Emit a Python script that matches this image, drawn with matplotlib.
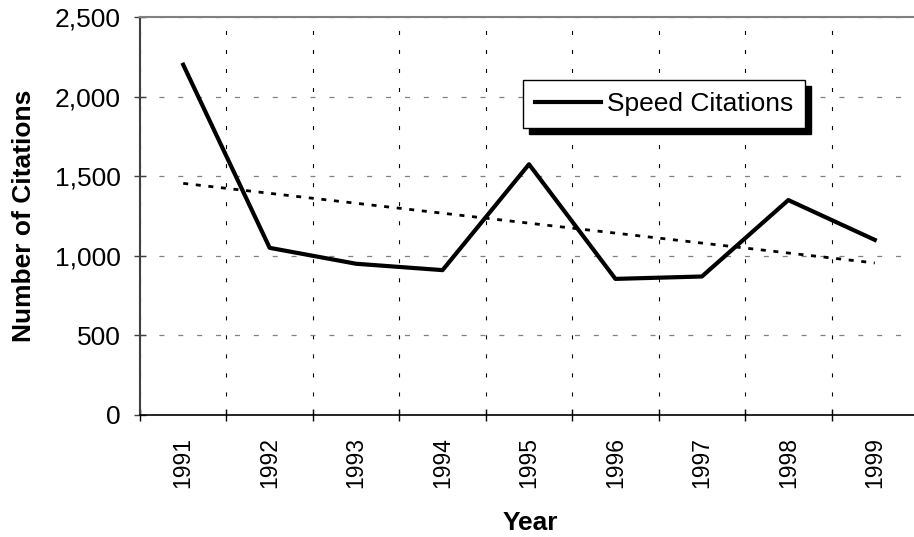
#!/usr/bin/env python3

import matplotlib
matplotlib.use("Agg")
import matplotlib.pyplot as plt
from matplotlib import font_manager

# Citation counts per year, plus the linear trend drawn across them
years = ["1991", "1992", "1993", "1994", "1995", "1996", "1997", "1998", "1999"]
citations = [2200, 1050, 950, 910, 1575, 855, 870, 1350, 1100]
trend_years = ["1991", "1999"]
trend_values = [1455, 955]
y_ticks = [0, 500, 1000, 1500, 2000, 2500]

plt.rcParams["font.family"] = ["Liberation Sans", "DejaVu Sans"]
plt.rcParams["lines.scale_dashes"] = False

names = {f.name for f in font_manager.fontManager.ttflist}
if "Liberation Sans Narrow" in names:
    xfont = dict(family="Liberation Sans Narrow", size=19)
else:
    xfont = dict(family="Liberation Sans", size=16.5)

fig = plt.figure(figsize=(9.14, 5.37), dpi=100)
ax = fig.add_axes([140 / 914, 122 / 537, 778 / 914, 398 / 537])

pos = list(range(len(years)))
trend_pos = [years.index(y) for y in trend_years]

ax.plot(trend_pos, trend_values, color="black", lw=2,
        linestyle=(0, (3.6, 5.5)), zorder=3)
ax.plot(pos, citations, color="black", lw=3, label="Speed Citations", zorder=4)

ax.set_xlim(-0.5, len(years) - 0.5)
ax.set_ylim(0, 2500)

# category boundaries carry the tick marks and vertical grid
ax.set_xticks([p - 0.5 for p in pos] + [len(years) - 0.5])
ax.set_xticklabels([])
ax.set_xticks(pos, minor=True)
ax.set_xticklabels(years, minor=True, rotation=90, **xfont)
ax.tick_params(axis="x", which="major", direction="inout", length=8, width=1)
ax.tick_params(axis="x", which="minor", length=0, pad=16)

ax.set_yticks(y_ticks)
ax.set_yticklabels([f"{v:,}" for v in y_ticks], fontsize=19)
ax.tick_params(axis="y", direction="inout", length=8, width=1, pad=10,
               color="#404040")

ax.xaxis.grid(True, which="major", color="black", lw=0.8,
              linestyle=(0, (2.9, 10.8)))
ax.yaxis.grid(True, color="#808080", lw=0.9, linestyle=(0, (3.6, 10)))
ax.set_axisbelow(True)

ax.spines["left"].set_color("#404040")
ax.spines["left"].set_linewidth(1.5)
ax.spines["bottom"].set_color("black")
ax.spines["bottom"].set_linewidth(1.2)
for side in ("top", "right"):
    ax.spines[side].set_color("#808080")
    ax.spines[side].set_linewidth(1.5)

fig.text(24 / 914, 1 - 216 / 537, "Number of Citations", fontsize=19,
         fontweight="bold", rotation=90, ha="center", va="center")
fig.text(530 / 914, 1 - 530 / 537, "Year", fontsize=19, fontweight="bold",
         ha="center", va="baseline")

leg = ax.legend(loc="upper left", bbox_to_anchor=(523 / 914, 1 - 80 / 537),
                bbox_transform=fig.transFigure, borderaxespad=0,
                fontsize=19, handlelength=2.5, handletextpad=0.23,
                borderpad=0.45, fancybox=False, framealpha=1,
                shadow={"ox": 4.3, "oy": -4.3, "facecolor": "black",
                        "edgecolor": "black", "alpha": 1})
leg.get_frame().set_edgecolor("black")
leg.get_frame().set_linewidth(1)

fig.savefig("out.png", dpi=100)
plt.close(fig)
